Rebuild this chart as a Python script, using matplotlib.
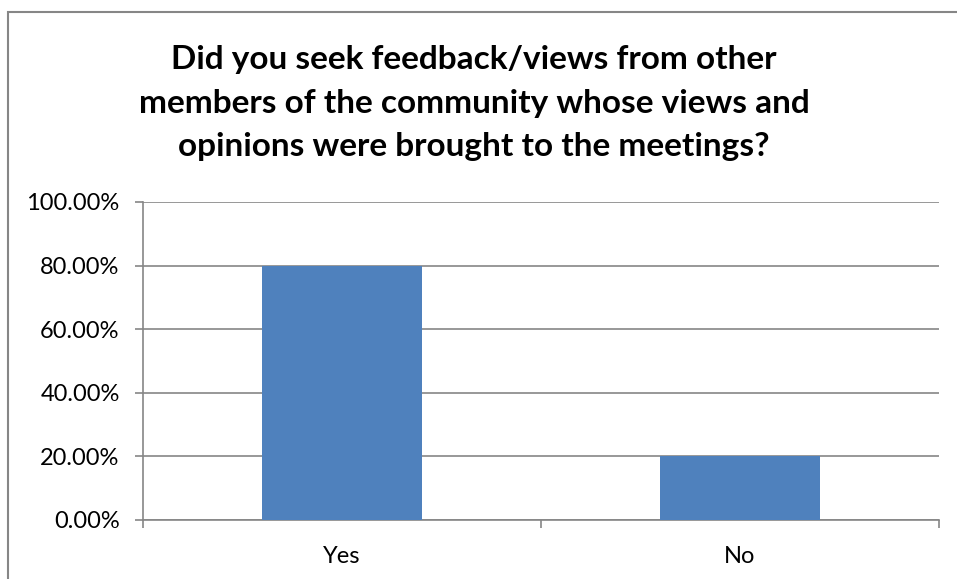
import matplotlib
matplotlib.use("Agg")
import matplotlib.pyplot as plt
from matplotlib.ticker import FuncFormatter
from matplotlib.patches import Rectangle

categories = ["Yes", "No"]
values = [0.80, 0.20]
yticks = [0.0, 0.2, 0.4, 0.6, 0.8, 1.0]
title = ("Did you seek feedback/views from other\n"
         "members of the community whose views and\n"
         "opinions were brought to the meetings?")

plt.rcParams['font.family'] = ['Lato', 'DejaVu Sans']

fig = plt.figure(figsize=(9.57, 5.79), dpi=100)
ax = fig.add_axes([143/957, 1-520/579, (939-143)/957, (520-202)/579])

# outer frame (left and top visible)
fig.patches.append(Rectangle((8/957, -0.1), 2.0, (1-12/579)+0.1, transform=fig.transFigure,
                             fill=False, edgecolor='#868686', linewidth=1.5))

x = list(range(len(categories)))
ax.bar(x, values, width=0.4, color='#4F81BD', zorder=3)
ax.set_xlim(-0.5, len(categories)-0.5)
ax.set_ylim(0, 1.0)
ax.set_yticks(yticks)
ax.yaxis.set_major_formatter(FuncFormatter(lambda v, p: f"{v*100:.2f}%"))
ax.set_xticks(x)
ax.set_xticklabels(categories)
ax.set_xticks([-0.5, 0.5, 1.5], minor=True)
ax.tick_params(axis='x', which='major', length=0, pad=19, labelsize=17)
ax.tick_params(axis='x', which='minor', length=5.8, color='#868686', width=1.2)
ax.tick_params(axis='y', length=5.8, color='#868686', width=1.2, labelsize=17, pad=11)
ax.grid(axis='y', color='#868686', linewidth=1.2, zorder=0)
for s in ['top', 'right']:
    ax.spines[s].set_visible(False)
for s in ['left', 'bottom']:
    ax.spines[s].set_color('#868686')
    ax.spines[s].set_linewidth(1.2)

fig.text(474/957, 1-103/579, title, ha='center', va='center', fontsize=24,
         fontweight='bold', linespacing=1.6)

fig.savefig("out.png", dpi=100)
